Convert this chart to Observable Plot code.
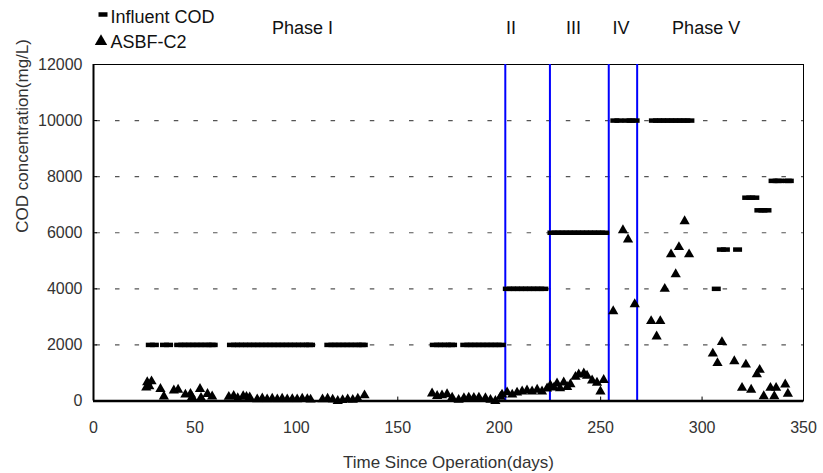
<!DOCTYPE html>
<html><head><meta charset="utf-8">
<script src="https://cdn.jsdelivr.net/npm/d3@7"></script>
<script src="https://cdn.jsdelivr.net/npm/@observablehq/plot@0.6"></script>
<style>html,body{margin:0;padding:0;background:#fff;} #chart{width:823px;height:473px;}</style>
</head><body><div id="chart"></div>
<script>
// Influent COD (mg/L)
const influentDays = [
  28,30,35,37,42,44,46,48,50,52,54,56,58,59,
  68,70,72,74,76,78,80,82,84,86,88,90,92,94,96,98,100,102,104,106,107,
  116,118,120,122,124,126,128,130,132,133,
  168,170,172,174,176,177,
  183,185,187,189,191,193,195,197,199,201,
  204,206,208,210,212,214,216,218,220,222,
  226,228,230,232,234,236,238,240,242,244,246,248,250,252,
  257,259,263,265,267,
  276,278,280,282,284,286,288,290,292,294,
  307,
  309.5,311.5,317.5,
  322,324,326,
  328,330,332,
  335,337,338,342,343
];
const influentCOD = [
  2000,2000,2000,2000,2000,2000,2000,2000,2000,2000,2000,2000,2000,2000,
  2000,2000,2000,2000,2000,2000,2000,2000,2000,2000,2000,2000,2000,2000,2000,2000,2000,2000,2000,2000,2000,
  2000,2000,2000,2000,2000,2000,2000,2000,2000,2000,
  2000,2000,2000,2000,2000,2000,
  2000,2000,2000,2000,2000,2000,2000,2000,2000,2000,
  4000,4000,4000,4000,4000,4000,4000,4000,4000,4000,
  6000,6000,6000,6000,6000,6000,6000,6000,6000,6000,6000,6000,6000,6000,
  10000,10000,10000,10000,10000,
  10000,10000,10000,10000,10000,10000,10000,10000,10000,10000,
  4000,
  5400,5400,5400,
  7250,7250,7250,
  6800,6800,6800,
  7850,7850,7850,7850,7850
];
// ASBF-C2 effluent COD (mg/L)
const asbfDays = [
  26,26.5,27.5,28.6,33,34.7,39.6,41.7,45.3,47.8,48.6,52.5,53,56.2,58.5,
  66.7,69.1,71.1,73.8,75.4,77,80.7,83.2,85.6,88.1,90.6,93,95.5,98,100.4,102.9,105.4,107,
  112.9,115.4,117.9,120.4,122.8,125.3,127.8,130.3,133.6,
  166.9,169.4,171.8,174.3,176.8,180,182.6,185,187.5,190,193.2,195.7,198.1,200.6,
  201.4,203.9,206.4,208.8,211.3,213.7,216.2,218.7,221.1,223.6,
  225.2,227,228.5,230,231.8,233.5,235.1,237.6,239.2,241.7,243.3,245.8,248.2,249.9,251.5,
  256.2,261,263.5,266.8,
  274.9,277.6,279.4,281.6,284.7,287,288.6,291.4,293.6,
  305.3,307.6,309.8,315.9,319.7,321.6,324.2,327,328.4,330.4,333.7,335.6,336.5,341,342.3
];
const asbfCOD = [
  480,670,520,700,430,160,375,400,230,250,140,430,110,250,160,
  150,180,100,170,150,130,60,90,60,80,60,80,60,70,60,80,70,50,
  60,80,50,0,30,60,40,80,200,
  270,180,200,240,120,40,100,120,110,120,100,40,0,150,
  230,310,230,300,340,375,340,400,340,445,
  560,480,625,450,660,500,600,860,945,980,900,730,650,340,750,
  3200,6090,5760,3450,
  2850,2300,2850,4000,5230,4520,5490,6410,5230,
  1690,1350,2100,1420,470,1300,400,950,1110,170,470,170,470,590,260
];
const xTicks = [0,50,100,150,200,250,300,350];
const yTicks = [0,2000,4000,6000,8000,10000,12000];
const gridValues = [2000,4000,6000,8000,10000];
const phaseBounds = [203,225,254,268];
const phaseNames = ["Phase I","II","III","IV","Phase V"];
const phaseLabelX = [103,205.8,236.6,260,302];
const seriesNames = ["Influent COD","ASBF-C2"];

const influent = influentDays.map((d,i)=>({day:d, cod:influentCOD[i]}));
const asbf = asbfDays.map((d,i)=>({day:d, cod:asbfCOD[i]}));
const phases = phaseNames.map((n,i)=>({name:n, x:phaseLabelX[i]}));

const dashSymbol = {draw(ctx){ ctx.rect(-4.5,-2.25,9,4.5); }};
const font = "'Liberation Sans', Arial, sans-serif";

const chart = Plot.plot({
  width: 823, height: 473,
  marginLeft: 93, marginRight: 20, marginTop: 64, marginBottom: 72.5,
  style: {fontFamily: font, background: "#fff", overflow: "visible"},
  x: {domain: [0,350]},
  y: {domain: [0,12000]},
  marks: [
    Plot.ruleY(gridValues, {stroke: "#555", strokeWidth: 1.2, strokeDasharray: "4.5,15.1", strokeDashoffset: -2.4}),
    Plot.frame({stroke: "#000", strokeWidth: 1}),
    Plot.ruleX(phaseBounds, {y1: 0, y2: 12000, stroke: "#0000ff", strokeWidth: 2}),
    Plot.dot(influent, {x: "day", y: "cod", symbol: dashSymbol, fill: "#000", stroke: "none"}),
    Plot.dot(asbf, {x: "day", y: "cod", symbol: "triangle", r: 3.8, fill: "#000", stroke: "none"}),
    Plot.ruleX(xTicks, {y1: 0, y2: 140, stroke: "#000"}),
    Plot.ruleY(yTicks, {x1: 0, x2: 2, stroke: "#000"}),
    Plot.ruleY([0], {stroke: "#000", strokeWidth: 2.5}),
    Plot.ruleX([0], {stroke: "#000", strokeWidth: 2}),
    Plot.axisX({ticks: xTicks, tickSize: 0, tickPadding: 21, fontSize: 16, tickFormat: d=>String(d), color: "#333"}),
    Plot.axisY({ticks: yTicks, tickSize: 0, tickPadding: 11, fontSize: 16, tickFormat: d=>String(d), color: "#333", label: null}),
    Plot.text(["Time Since Operation(days)"], {frameAnchor: "bottom", dy: 54.5, lineAnchor: "top", fontSize: 17, fill: "#333"}),
    Plot.text(["COD concentration(mg/L)"], {frameAnchor: "left", dx: -71, rotate: -90, lineAnchor: "middle", fontSize: 17, fill: "#333"}),
    Plot.text(phases, {x: "x", y: 12000, text: "name", dy: -31, lineAnchor: "bottom", fontSize: 18, fill: "#111"}),
    Plot.dot([seriesNames[0]], {frameAnchor: "top-left", dx: 9.5, dy: -50, symbol: dashSymbol, fill: "#000", stroke: "none"}),
    Plot.dot([seriesNames[1]], {frameAnchor: "top-left", dx: 7.5, dy: -23, symbol: "triangle", r: 4.6, fill: "#000", stroke: "none"}),
    Plot.text([seriesNames[0]], {frameAnchor: "top-left", dx: 17, dy: -42, textAnchor: "start", lineAnchor: "bottom", fontSize: 18, fill: "#111"}),
    Plot.text([seriesNames[1]], {frameAnchor: "top-left", dx: 17, dy: -17, textAnchor: "start", lineAnchor: "bottom", fontSize: 18, fill: "#111"})
  ]
});
document.getElementById("chart").appendChild(chart);
</script>
</body></html>
